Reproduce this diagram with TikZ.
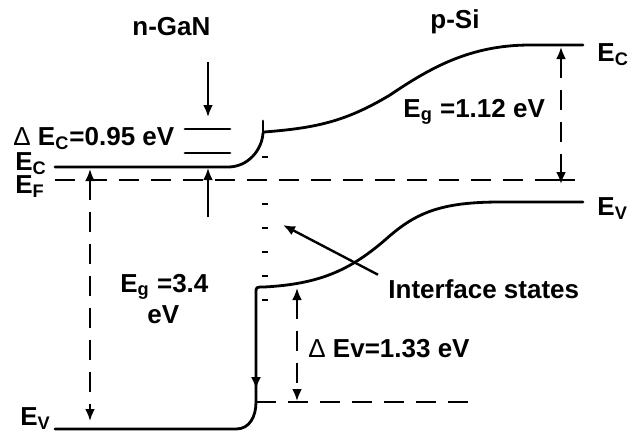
\documentclass[tikz,border=0pt]{standalone}
\usepackage{fontspec}
\setmainfont{Liberation Sans}
\usetikzlibrary{arrows.meta}

\begin{document}
\begin{tikzpicture}[
  x=0.5pt, y=-0.5pt,
  >={Latex[length=6pt,width=5pt]},
  font=\fontsize{13}{15}\selectfont\bfseries,
  % Styles
  band/.style={line width=1.4pt, line cap=round},
  level/.style={line width=1.3pt, dash pattern=on 10pt off 6pt},
  gap/.style={<->, line width=1.2pt, dash pattern=on 10pt off 6pt},
  pointer/.style={->, line width=1.2pt},
  lbl/.style={inner sep=0pt, anchor=base west},
  trap/.style={line width=1.2pt},
]
\useasboundingbox (0,0) rectangle (630,435);

% === Anchor points ===
\coordinate (gcTop) at (208,62);
\coordinate (gcTip) at (208,117);
\coordinate (gcBot) at (208,217);
\coordinate (gcEc) at (208,168);
\coordinate (gvEc) at (90,169);
\coordinate (gvEv) at (90,421);
\coordinate (siEc) at (561,47);
\coordinate (siEf) at (561,184);
\coordinate (dvTop) at (297,288);
\coordinate (dvBot) at (297,401);
\coordinate (trapTip) at (283,225);

% === Band edges ===
% n-GaN conduction band with bending
\draw[band] (55,167) -- (228,167) .. controls (248,167) and (262,150) .. (263,133);
\draw[band] (263,121) -- (263,135);
% p-Si conduction band
\draw[band] (264,132) .. controls (315,128) and (345,122) .. (390,95)
  .. controls (430,68) and (470,45) .. (530,45) -- (583,45);
% p-Si valence band
\draw[band] (256,402) -- (256,293) .. controls (256,287) .. (264,287)
  .. controls (320,284) and (350,270) .. (385,240)
  .. controls (415,213) and (440,202) .. (500,202) -- (583,202);
\draw[->, line width=1pt] (256,372) -- (256,389);
% n-GaN valence band
\draw[band] (55,429) -- (236,429) .. controls (250,429) and (256,416) .. (256,402);

% === Offset levels ===
\draw[band] (185,129) -- (230,129);
\draw[band] (185,153) -- (230,153);
\draw[level] (55,180) -- (575,180);
\draw[level] (256,402) -- (470,402);

% === Interface states ===
\foreach \yy in {157,204,228,252,276,300}
  \draw[trap] (262,\yy) -- (268,\yy);

% === Arrows ===
\draw[pointer] (gcTop) -- (gcTip);
\draw[pointer] (gcBot) -- (gcEc);
\draw[gap] (gvEc) -- (gvEv);
\draw[gap] (siEc) -- (siEf);
\draw[gap] (dvTop) -- (dvBot);
\draw[line width=1.2pt] (546,180) -- (575,180);

% === Labels ===
\node[lbl] (gan) at (132,35) {n-GaN};
\node[lbl] (si) at (430,28) {p-Si};
\node[lbl] (dEc) at (13,145) {{\mdseries Δ} E\textsubscript{C}=0.95 eV};
\node[lbl] (ecL) at (15,170) {E\textsubscript{C}};
\node[lbl] (efL) at (15,193) {E\textsubscript{F}};
\node[lbl] (evL) at (20,425) {E\textsubscript{V}};
\node[lbl] (ecR) at (597,61) {E\textsubscript{C}};
\node[lbl] (evR) at (597,215) {E\textsubscript{V}};
\node[lbl] (egSi) at (403,117) {E\textsubscript{g} =1.12 eV};
\node[lbl] (egGan) at (120,292) {E\textsubscript{g} =3.4};
\node[lbl] (egGan2) at (147,323) {eV};
\node[lbl] (dEv) at (308,357) {{\mdseries Δ} Ev=1.33 eV};
\node[lbl] (ifs) at (388,298) {Interface states};
\draw[pointer] (ifs.west) ++(-10,-14) -- (trapTip);

\end{tikzpicture}
\end{document}
